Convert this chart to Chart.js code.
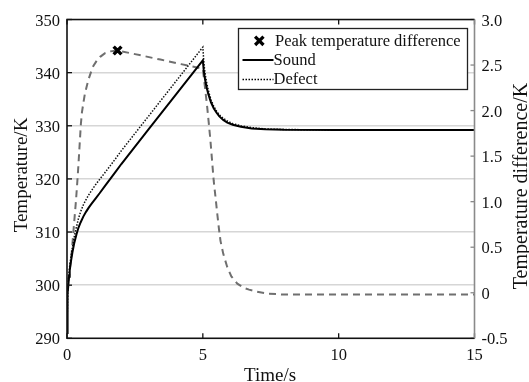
<!DOCTYPE html>
<html>
<head>
<meta charset="utf-8">
<script src="https://cdn.jsdelivr.net/npm/chart.js@4.4.1/dist/chart.umd.min.js"></script>
<style>
  html, body { margin: 0; padding: 0; background: #fff; }
  #wrap { width: 529px; height: 382px; }
</style>
</head>
<body>
<div id="wrap"><canvas id="c" width="529" height="382"></canvas></div>
<script>
// ---- data ----
const xTicks = [0, 5, 10, 15];
const leftTicks = [290, 300, 310, 320, 330, 340, 350];
const rightTicks = [-0.5, 0, 0.5, 1.0, 1.5, 2.0, 2.5, 3.0];
const rightTickLabels = ['-0.5', '0', '0.5', '1.0', '1.5', '2.0', '2.5', '3.0'];

const soundT = [0, 0.01, 0.02, 0.035, 0.05, 0.075, 0.1, 0.15, 0.2, 0.27, 0.35, 0.42, 0.5, 0.6, 0.7, 0.8, 0.9, 1.05, 1.2, 1.4, 1.58, 1.8, 2, 3, 4, 5,
  5.03, 5.06, 5.1, 5.15, 5.2, 5.3, 5.4, 5.5, 5.6, 5.75, 5.9, 6.1, 6.4, 6.8, 7.3, 8, 10, 15];
const soundV = [291, 294, 296, 298.5, 300, 301.6, 302.8, 304.6, 306.2, 308, 309.6, 310.8, 311.8, 312.9, 313.8, 314.6, 315.3, 316.3, 317.3, 318.7, 319.9, 321.4, 322.8, 329.3, 335.8, 342.3,
  340.6, 339.4, 338.2, 337.0, 336.0, 334.4, 333.3, 332.5, 331.8, 331.1, 330.6, 330.2, 329.8, 329.5, 329.35, 329.25, 329.2, 329.2];

const defectT = [0, 0.01, 0.02, 0.035, 0.05, 0.075, 0.1, 0.15, 0.2, 0.27, 0.35, 0.42, 0.5, 0.6, 0.7, 0.8, 0.9, 1.05, 1.2, 1.4, 1.58, 1.8, 2, 3, 4, 5,
  5.03, 5.06, 5.1, 5.15, 5.2, 5.3, 5.4, 5.5, 5.6, 5.75, 5.9, 6.1, 6.4, 6.8, 7.3, 8, 10, 15];
const defectV = [291, 294.5, 297, 299.3, 301, 302.4, 303.6, 305.5, 307.2, 309.2, 311, 312.5, 313.8, 315.1, 316.1, 317.0, 317.8, 318.9, 319.9, 321.2, 322.4, 323.9, 325.3, 331.8, 338.3, 344.8,
  342.5, 340.8, 339.3, 337.9, 336.7, 334.9, 333.7, 332.8, 332.1, 331.4, 330.9, 330.4, 330.0, 329.65, 329.4, 329.3, 329.2, 329.2];

const diffT = [0, 0.05, 0.1, 0.17, 0.23, 0.28, 0.33, 0.38, 0.42, 0.47, 0.51, 0.55, 0.6, 0.65, 0.72, 0.79, 0.88, 0.97, 1.1, 1.22, 1.4, 1.6, 1.86, 2.5, 3.44, 4.2, 5,
  5.05, 5.1, 5.16, 5.22, 5.28, 5.34, 5.4, 5.47, 5.53, 5.59, 5.65, 5.75, 5.9, 6.05, 6.27, 6.5, 6.7, 7.0, 7.4, 8, 15];
const diffV = [0, 0.12, 0.25, 0.43, 0.65, 0.83, 1.01, 1.22, 1.4, 1.65, 1.85, 1.98, 2.08, 2.17, 2.26, 2.34, 2.42, 2.49, 2.55, 2.59, 2.63, 2.65, 2.66, 2.62, 2.56, 2.51, 2.46,
  2.33, 2.2, 2.04, 1.86, 1.67, 1.45, 1.23, 1.04, 0.87, 0.71, 0.57, 0.43, 0.28, 0.18, 0.1, 0.055, 0.034, 0.01, -0.01, -0.02, -0.02];

const peakT = [1.86];
const peakV = [2.66];

const labels = {
  peak: 'Peak temperature difference',
  sound: 'Sound',
  defect: 'Defect',
  xTitle: 'Time/s',
  yTitle: 'Temperature/K',
  y2Title: 'Temperature difference/K'
};

const pts = (t, v) => t.map((x, i) => ({ x: x, y: v[i] }));
const FONT = "'Liberation Serif', serif";
Chart.defaults.font.family = FONT;
Chart.defaults.color = '#111';

const frame = {
  id: 'frame',
  afterDraw(chart) {
    const c = chart.ctx, a = chart.chartArea;
    const xs = chart.scales.x, ys = chart.scales.y, y2 = chart.scales.y2;
    c.save();
    // inner ticks
    c.lineWidth = 1.3;
    c.strokeStyle = '#111';
    leftTicks.forEach(v => {
      const y = ys.getPixelForValue(v);
      c.beginPath(); c.moveTo(a.left, y); c.lineTo(a.left + 5, y); c.stroke();
    });
    xTicks.forEach(v => {
      const x = xs.getPixelForValue(v);
      c.beginPath(); c.moveTo(x, a.bottom); c.lineTo(x, a.bottom - 5); c.stroke();
      c.beginPath(); c.moveTo(x, a.top); c.lineTo(x, a.top + 5); c.stroke();
    });
    c.strokeStyle = '#888';
    rightTicks.forEach(v => {
      const y = y2.getPixelForValue(v);
      c.beginPath(); c.moveTo(a.right, y); c.lineTo(a.right - 4, y); c.stroke();
    });
    // box
    c.lineWidth = 1.6;
    c.strokeStyle = '#111';
    c.beginPath();
    c.moveTo(a.right, a.top); c.lineTo(a.left, a.top); c.lineTo(a.left, a.bottom); c.lineTo(a.right, a.bottom);
    c.stroke();
    c.strokeStyle = '#8a8a8a';
    c.beginPath(); c.moveTo(a.right, a.top); c.lineTo(a.right, a.bottom); c.stroke();

    // tick labels
    c.fillStyle = '#111';
    c.font = '16.5px ' + FONT;
    c.textBaseline = 'alphabetic';
    c.textAlign = 'right';
    leftTicks.forEach(v => c.fillText(String(v), a.left - 7, ys.getPixelForValue(v) + 6));
    c.textAlign = 'left';
    rightTicks.forEach((v, i) => c.fillText(rightTickLabels[i], a.right + 7, y2.getPixelForValue(v) + 6));
    c.textAlign = 'center';
    xTicks.forEach(v => c.fillText(String(v), xs.getPixelForValue(v), 360));

    // legend
    const lx = 238.5, ly = 28.5, lw = 229, lh = 61;
    c.fillStyle = '#fff';
    c.fillRect(lx, ly, lw, lh);
    c.lineWidth = 1.3;
    c.strokeStyle = '#222';
    c.strokeRect(lx, ly, lw, lh);
    // marker
    const mx = 259.3, my = 40.8, r = 4.2;
    c.lineWidth = 3.2; c.strokeStyle = '#000'; c.lineCap = 'butt';
    c.beginPath(); c.moveTo(mx - r, my - r); c.lineTo(mx + r, my + r);
    c.moveTo(mx + r, my - r); c.lineTo(mx - r, my + r); c.stroke();
    // sound line
    c.lineWidth = 2; c.setLineDash([]);
    c.beginPath(); c.moveTo(242.5, 60); c.lineTo(273.5, 60); c.stroke();
    // defect line
    c.lineWidth = 1.5; c.setLineDash([1.5, 1.5]);
    c.beginPath(); c.moveTo(242.5, 79.5); c.lineTo(273.5, 79.5); c.stroke();
    c.setLineDash([]);
    c.fillStyle = '#111';
    c.font = '16.5px ' + FONT;
    c.textBaseline = 'middle';
    c.textAlign = 'left';
    c.fillText(labels.peak, 275, 41.5);
    c.fillText(labels.sound, 273.5, 61);
    c.fillText(labels.defect, 273.5, 80);

    // axis titles
    c.font = '19px ' + FONT;
    c.textBaseline = 'alphabetic';
    c.textAlign = 'center';
    c.fillText(labels.xTitle, 270, 380.5);
    c.save();
    c.translate(26.5, 175);
    c.rotate(-Math.PI / 2);
    c.fillText(labels.yTitle, 0, 0);
    c.restore();
    c.font = '20px ' + FONT;
    c.save();
    c.translate(526.5, 186);
    c.rotate(-Math.PI / 2);
    c.fillText(labels.y2Title, 0, 0);
    c.restore();
    c.restore();
  }
};

new Chart(document.getElementById('c'), {
  type: 'line',
  data: {
    datasets: [
      {
        label: labels.peak, data: pts(peakT, peakV), yAxisID: 'y2',
        showLine: false, pointStyle: 'crossRot', pointRadius: 5.5,
        pointBorderWidth: 3.4, pointBorderColor: '#000', pointBackgroundColor: '#000', order: 0
      },
      {
        label: labels.defect, data: pts(defectT, defectV), yAxisID: 'y',
        borderColor: '#111', borderWidth: 1.5, borderDash: [1.5, 1.5],
        pointRadius: 0, tension: 0, order: 2
      },
      {
        label: labels.sound, data: pts(soundT, soundV), yAxisID: 'y',
        borderColor: '#000', borderWidth: 2, pointRadius: 0,
        tension: 0, order: 1
      },
      {
        label: 'diff', data: pts(diffT, diffV), yAxisID: 'y2',
        borderColor: '#6f6f6f', borderWidth: 2, borderDash: [7, 5],
        pointRadius: 0, tension: 0, order: 3
      }
    ]
  },
  options: {
    responsive: false,
    animation: false,
    layout: { padding: { top: 19.5, left: 0, right: 0, bottom: 0 } },
    plugins: { legend: { display: false }, tooltip: { enabled: false } },
    scales: {
      x: {
        type: 'linear', min: 0, max: 15,
        afterBuildTicks: s => { s.ticks = xTicks.map(v => ({ value: v })); },
        ticks: { display: false },
        grid: { display: false, drawTicks: false },
        border: { display: false },
        afterFit: s => { s.height = 43.7; }
      },
      y: {
        position: 'left', min: 290, max: 350,
        afterBuildTicks: s => { s.ticks = leftTicks.map(v => ({ value: v })); },
        ticks: { display: false },
        grid: { color: '#d6d6d6', lineWidth: 1.6, drawTicks: false },
        border: { display: false },
        afterFit: s => { s.width = 67; }
      },
      y2: {
        position: 'right', min: -0.5, max: 3,
        afterBuildTicks: s => { s.ticks = rightTicks.map(v => ({ value: v })); },
        ticks: { display: false },
        grid: { display: false, drawTicks: false },
        border: { display: false },
        afterFit: s => { s.width = 54.5; }
      }
    }
  },
  plugins: [frame]
});
</script>
</body>
</html>
